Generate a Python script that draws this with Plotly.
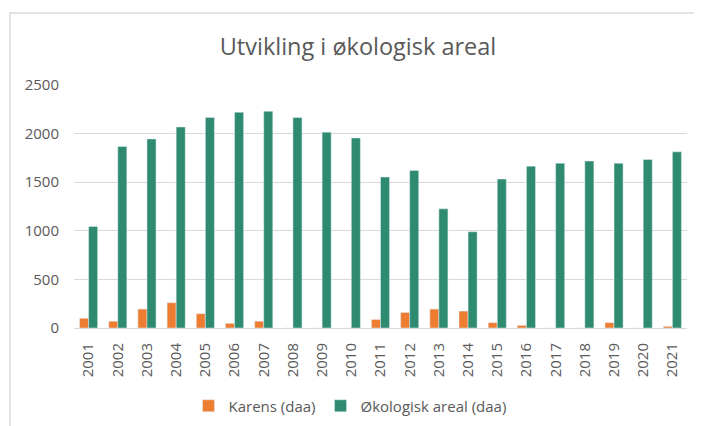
import plotly.graph_objects as go

years = [str(y) for y in range(2001, 2022)]
karens = [100, 70, 195, 260, 147, 48, 70, 0, 0, 0, 88, 160, 195, 174, 55, 27, 0, 0, 55, 0, 17]
okologisk = [1045, 1867, 1945, 2068, 2165, 2220, 2230, 2165, 2015, 1955, 1553, 1621, 1226, 990, 1532, 1665, 1695, 1717, 1695, 1734, 1812]

fig = go.Figure()
fig.add_trace(go.Bar(x=years, y=karens, name="Karens (daa)", marker_color="#ED7D31"))
fig.add_trace(go.Bar(x=years, y=okologisk, name="Økologisk areal (daa)", marker_color="#2E8B70"))

# page body has an 8px default margin; compensate so the plot lands where the reference has it
OFF = 8
W, H = 702, 426
L, T = 74 - OFF, 85 - OFF
R = W - (687 - OFF)
B = H - (328 - OFF)
pw = W - L - R
ph = H - T - B
bx = (10 - OFF - L) / pw
ty = 1 + (T - (13 - OFF)) / ph

fig.update_layout(
    width=W, height=H,
    margin=dict(l=L, r=R, t=T, b=B),
    paper_bgcolor="white", plot_bgcolor="white",
    barmode="group", bargap=0.38, bargroupgap=0,
    font=dict(family="Open Sans", color="#595959", size=15),
    title=dict(text="Utvikling i økologisk areal", x=(358 - OFF) / W, xref="container", xanchor="center",
               y=1 - (47 - OFF) / H, yref="container", yanchor="middle",
               font=dict(size=23.5, color="#595959")),
    legend=dict(orientation="h", x=(350 - OFF - L) / pw, xanchor="center",
                y=((328 - OFF) - (406 - OFF)) / ph,
                yanchor="middle", font=dict(size=15, color="#595959"), itemwidth=30,
                traceorder="normal"),
    xaxis=dict(tickangle=-90, showgrid=False, showline=True, linecolor="#d9d9d9", linewidth=1,
               ticks="", ticklabelstandoff=8, tickfont=dict(size=15)),
    yaxis=dict(range=[0, 2500], dtick=500, showgrid=True, gridcolor="#d9d9d9", gridwidth=1,
               zeroline=False, showline=False, ticks="", ticklabelstandoff=14,
               tickfont=dict(size=15)),
    shapes=[dict(type="path", xref="paper", yref="paper",
                 path=f"M {bx} -1 L {bx} {ty} L 1.2 {ty}",
                 line=dict(color="#d9d9d9", width=1.5), layer="below")],
)

fig.write_html("out.html")
